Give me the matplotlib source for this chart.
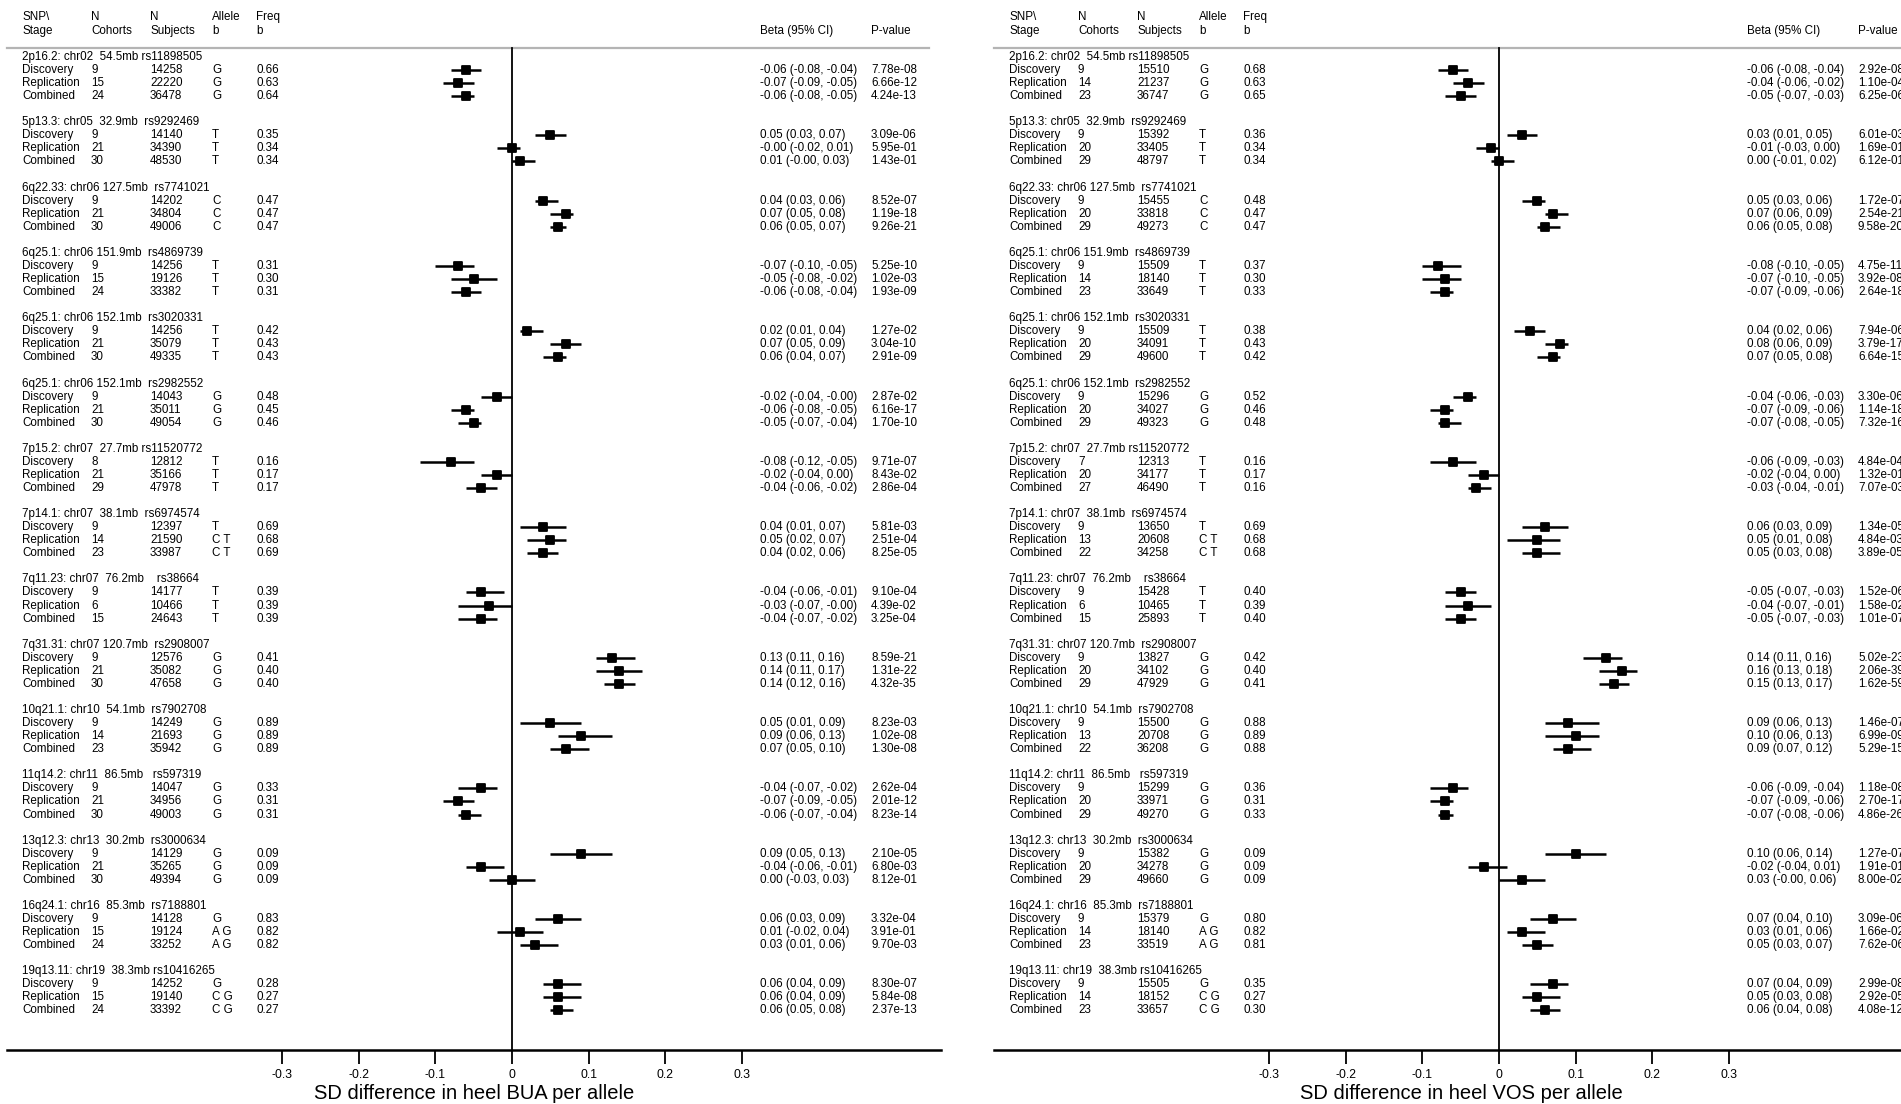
import matplotlib
matplotlib.use("Agg")
import matplotlib.pyplot as plt
from matplotlib.markers import MarkerStyle

plt.rcParams['font.family'] = ['Liberation Sans', 'DejaVu Sans']

# locus titles (same order in both panels)
loci = ["2p16.2: chr02  54.5mb rs11898505", "5p13.3: chr05  32.9mb  rs9292469",
        "6q22.33: chr06 127.5mb  rs7741021", "6q25.1: chr06 151.9mb  rs4869739",
        "6q25.1: chr06 152.1mb  rs3020331", "6q25.1: chr06 152.1mb  rs2982552",
        "7p15.2: chr07  27.7mb rs11520772", "7p14.1: chr07  38.1mb  rs6974574",
        "7q11.23: chr07  76.2mb    rs38664", "7q31.31: chr07 120.7mb  rs2908007",
        "10q21.1: chr10  54.1mb  rs7902708", "11q14.2: chr11  86.5mb   rs597319",
        "13q12.3: chr13  30.2mb  rs3000634", "16q24.1: chr16  85.3mb  rs7188801",
        "19q13.11: chr19  38.3mb rs10416265"]
stages = ["Discovery", "Replication", "Combined"]

alleles = [["G", "G", "G"], ["T", "T", "T"], ["C", "C", "C"], ["T", "T", "T"], ["T", "T", "T"],
           ["G", "G", "G"], ["T", "T", "T"], ["T", "C T", "C T"], ["T", "T", "T"], ["G", "G", "G"],
           ["G", "G", "G"], ["G", "G", "G"], ["G", "G", "G"], ["G", "A G", "A G"], ["G", "C G", "C G"]]

# ---- heel BUA ----
bua_cohorts = [[9, 15, 24], [9, 21, 30], [9, 21, 30], [9, 15, 24], [9, 21, 30], [9, 21, 30],
               [8, 21, 29], [9, 14, 23], [9, 6, 15], [9, 21, 30], [9, 14, 23], [9, 21, 30],
               [9, 21, 30], [9, 15, 24], [9, 15, 24]]
bua_subjects = [[14258, 22220, 36478], [14140, 34390, 48530], [14202, 34804, 49006],
                [14256, 19126, 33382], [14256, 35079, 49335], [14043, 35011, 49054],
                [12812, 35166, 47978], [12397, 21590, 33987], [14177, 10466, 24643],
                [12576, 35082, 47658], [14249, 21693, 35942], [14047, 34956, 49003],
                [14129, 35265, 49394], [14128, 19124, 33252], [14252, 19140, 33392]]
bua_freq = [[0.66, 0.63, 0.64], [0.35, 0.34, 0.34], [0.47, 0.47, 0.47], [0.31, 0.30, 0.31],
            [0.42, 0.43, 0.43], [0.48, 0.45, 0.46], [0.16, 0.17, 0.17], [0.69, 0.68, 0.69],
            [0.39, 0.39, 0.39], [0.41, 0.40, 0.40], [0.89, 0.89, 0.89], [0.33, 0.31, 0.31],
            [0.09, 0.09, 0.09], [0.83, 0.82, 0.82], [0.28, 0.27, 0.27]]
bua_beta = [[-0.06, -0.07, -0.06], [0.05, -0.0, 0.01], [0.04, 0.07, 0.06], [-0.07, -0.05, -0.06],
            [0.02, 0.07, 0.06], [-0.02, -0.06, -0.05], [-0.08, -0.02, -0.04], [0.04, 0.05, 0.04],
            [-0.04, -0.03, -0.04], [0.13, 0.14, 0.14], [0.05, 0.09, 0.07], [-0.04, -0.07, -0.06],
            [0.09, -0.04, 0.00], [0.06, 0.01, 0.03], [0.06, 0.06, 0.06]]
bua_lo = [[-0.08, -0.09, -0.08], [0.03, -0.02, -0.0], [0.03, 0.05, 0.05], [-0.10, -0.08, -0.08],
          [0.01, 0.05, 0.04], [-0.04, -0.08, -0.07], [-0.12, -0.04, -0.06], [0.01, 0.02, 0.02],
          [-0.06, -0.07, -0.07], [0.11, 0.11, 0.12], [0.01, 0.06, 0.05], [-0.07, -0.09, -0.07],
          [0.05, -0.06, -0.03], [0.03, -0.02, 0.01], [0.04, 0.04, 0.05]]
bua_hi = [[-0.04, -0.05, -0.05], [0.07, 0.01, 0.03], [0.06, 0.08, 0.07], [-0.05, -0.02, -0.04],
          [0.04, 0.09, 0.07], [-0.0, -0.05, -0.04], [-0.05, 0.00, -0.02], [0.07, 0.07, 0.06],
          [-0.01, -0.0, -0.02], [0.16, 0.17, 0.16], [0.09, 0.13, 0.10], [-0.02, -0.05, -0.04],
          [0.13, -0.01, 0.03], [0.09, 0.04, 0.06], [0.09, 0.09, 0.08]]
bua_p = [[7.78e-08, 6.66e-12, 4.24e-13], [3.09e-06, 5.95e-01, 1.43e-01], [8.52e-07, 1.19e-18, 9.26e-21],
         [5.25e-10, 1.02e-03, 1.93e-09], [1.27e-02, 3.04e-10, 2.91e-09], [2.87e-02, 6.16e-17, 1.70e-10],
         [9.71e-07, 8.43e-02, 2.86e-04], [5.81e-03, 2.51e-04, 8.25e-05], [9.10e-04, 4.39e-02, 3.25e-04],
         [8.59e-21, 1.31e-22, 4.32e-35], [8.23e-03, 1.02e-08, 1.30e-08], [2.62e-04, 2.01e-12, 8.23e-14],
         [2.10e-05, 6.80e-03, 8.12e-01], [3.32e-04, 3.91e-01, 9.70e-03], [8.30e-07, 5.84e-08, 2.37e-13]]

# ---- heel VOS ----
vos_cohorts = [[9, 14, 23], [9, 20, 29], [9, 20, 29], [9, 14, 23], [9, 20, 29], [9, 20, 29],
               [7, 20, 27], [9, 13, 22], [9, 6, 15], [9, 20, 29], [9, 13, 22], [9, 20, 29],
               [9, 20, 29], [9, 14, 23], [9, 14, 23]]
vos_subjects = [[15510, 21237, 36747], [15392, 33405, 48797], [15455, 33818, 49273],
                [15509, 18140, 33649], [15509, 34091, 49600], [15296, 34027, 49323],
                [12313, 34177, 46490], [13650, 20608, 34258], [15428, 10465, 25893],
                [13827, 34102, 47929], [15500, 20708, 36208], [15299, 33971, 49270],
                [15382, 34278, 49660], [15379, 18140, 33519], [15505, 18152, 33657]]
vos_freq = [[0.68, 0.63, 0.65], [0.36, 0.34, 0.34], [0.48, 0.47, 0.47], [0.37, 0.30, 0.33],
            [0.38, 0.43, 0.42], [0.52, 0.46, 0.48], [0.16, 0.17, 0.16], [0.69, 0.68, 0.68],
            [0.40, 0.39, 0.40], [0.42, 0.40, 0.41], [0.88, 0.89, 0.88], [0.36, 0.31, 0.33],
            [0.09, 0.09, 0.09], [0.80, 0.82, 0.81], [0.35, 0.27, 0.30]]
vos_beta = [[-0.06, -0.04, -0.05], [0.03, -0.01, 0.00], [0.05, 0.07, 0.06], [-0.08, -0.07, -0.07],
            [0.04, 0.08, 0.07], [-0.04, -0.07, -0.07], [-0.06, -0.02, -0.03], [0.06, 0.05, 0.05],
            [-0.05, -0.04, -0.05], [0.14, 0.16, 0.15], [0.09, 0.10, 0.09], [-0.06, -0.07, -0.07],
            [0.10, -0.02, 0.03], [0.07, 0.03, 0.05], [0.07, 0.05, 0.06]]
vos_lo = [[-0.08, -0.06, -0.07], [0.01, -0.03, -0.01], [0.03, 0.06, 0.05], [-0.10, -0.10, -0.09],
          [0.02, 0.06, 0.05], [-0.06, -0.09, -0.08], [-0.09, -0.04, -0.04], [0.03, 0.01, 0.03],
          [-0.07, -0.07, -0.07], [0.11, 0.13, 0.13], [0.06, 0.06, 0.07], [-0.09, -0.09, -0.08],
          [0.06, -0.04, -0.0], [0.04, 0.01, 0.03], [0.04, 0.03, 0.04]]
vos_hi = [[-0.04, -0.02, -0.03], [0.05, 0.00, 0.02], [0.06, 0.09, 0.08], [-0.05, -0.05, -0.06],
          [0.06, 0.09, 0.08], [-0.03, -0.06, -0.05], [-0.03, 0.00, -0.01], [0.09, 0.08, 0.08],
          [-0.03, -0.01, -0.03], [0.16, 0.18, 0.17], [0.13, 0.13, 0.12], [-0.04, -0.06, -0.06],
          [0.14, 0.01, 0.06], [0.10, 0.06, 0.07], [0.09, 0.08, 0.08]]
vos_p = [[2.92e-08, 1.10e-04, 6.25e-06], [6.01e-03, 1.69e-01, 6.12e-01], [1.72e-07, 2.54e-21, 9.58e-20],
         [4.75e-11, 3.92e-08, 2.64e-18], [7.94e-06, 3.79e-17, 6.64e-15], [3.30e-06, 1.14e-18, 7.32e-16],
         [4.84e-04, 1.32e-01, 7.07e-03], [1.34e-05, 4.84e-03, 3.89e-05], [1.52e-06, 1.58e-02, 1.01e-07],
         [5.02e-23, 2.06e-39, 1.62e-59], [1.46e-07, 6.99e-09, 5.29e-15], [1.18e-08, 2.70e-17, 4.86e-26],
         [1.27e-07, 1.91e-01, 8.00e-02], [3.09e-06, 1.66e-02, 7.62e-06], [2.99e-08, 2.92e-05, 4.08e-12]]

W, H = 1901, 1104
fig = plt.figure(figsize=(W / 100, H / 100), dpi=100)

PX0 = 512.0      # pixel of zero (left panel)
PXU = 767.0      # pixels per unit beta
FS = 8.4
box = MarkerStyle('s', joinstyle='round')


def dx(px):
    return (px - PX0) / PXU


def panel(left_px, cohorts, subjects, freq, beta, lo, hi, pvals, xlabel):
    ax = fig.add_axes([left_px / W, 1 - 1050 / H, 934 / W, 1050 / H])
    ax.set_xlim(dx(7), dx(941))
    ax.set_ylim(76.03, -4.364)
    for s in ['top', 'left', 'right']:
        ax.spines[s].set_visible(False)
    ax.spines['bottom'].set_linewidth(1.8)
    ax.set_yticks([])
    ticks = [-0.3, -0.2, -0.1, 0, 0.1, 0.2, 0.3]
    ax.set_xticks(ticks)
    ax.set_xticklabels(["-0.3", "-0.2", "-0.1", "0", "0.1", "0.2", "0.3"], fontsize=8.8)
    ax.tick_params(axis='x', length=10, width=1.3, pad=4)
    ax.set_xlabel(xlabel, fontsize=14.5, labelpad=1.5)

    # header
    cols = [(22, "SNP\\", "Stage"), (91, "N", "Cohorts"), (150, "N", "Subjects"),
            (212, "Allele", "b"), (256, "Freq", "b")]
    for px, t1, t2 in cols:
        ax.text(dx(px), -3.06, t1, fontsize=FS, va='center', clip_on=False)
        ax.text(dx(px), -2.0, t2, fontsize=FS, va='center', clip_on=False)
    ax.text(dx(760), -2.0, "Beta (95% CI)", fontsize=FS, va='center', clip_on=False)
    ax.text(dx(871), -2.0, "P-value", fontsize=FS, va='center', clip_on=False)
    ax.plot([dx(7), dx(929)], [-0.71, -0.71], color='#b4b4b4', lw=1.6, clip_on=False)
    ax.plot([0, 0], [-0.71, 76.03], color='black', lw=1.3)

    for g, title in enumerate(loci):
        r0 = 5 * g
        ax.text(dx(22), r0, title, fontsize=FS, va='center')
        for k in range(3):
            r = r0 + 1 + k
            ax.text(dx(22), r, stages[k], fontsize=FS, va='center')
            ax.text(dx(91), r, str(cohorts[g][k]), fontsize=FS, va='center')
            ax.text(dx(150), r, str(subjects[g][k]), fontsize=FS, va='center')
            ax.text(dx(212), r, alleles[g][k], fontsize=FS, va='center')
            ax.text(dx(256), r, f"{freq[g][k]:.2f}", fontsize=FS, va='center')
            ax.text(dx(760), r, f"{beta[g][k]:.2f} ({lo[g][k]:.2f}, {hi[g][k]:.2f})",
                    fontsize=FS, va='center', clip_on=False)
            ax.text(dx(871), r, f"{pvals[g][k]:.2e}", fontsize=FS, va='center', clip_on=False)
            ax.plot([lo[g][k], hi[g][k]], [r, r], color='black', lw=1.8, solid_capstyle='butt')
            ax.plot(beta[g][k], r, marker=box, ms=5.6, mew=1.3, color='black')
    return ax


panel(7, bua_cohorts, bua_subjects, bua_freq, bua_beta, bua_lo, bua_hi, bua_p,
      "SD difference in heel BUA per allele")
panel(994, vos_cohorts, vos_subjects, vos_freq, vos_beta, vos_lo, vos_hi, vos_p,
      "SD difference in heel VOS per allele")

fig.savefig("out.png", dpi=100)
